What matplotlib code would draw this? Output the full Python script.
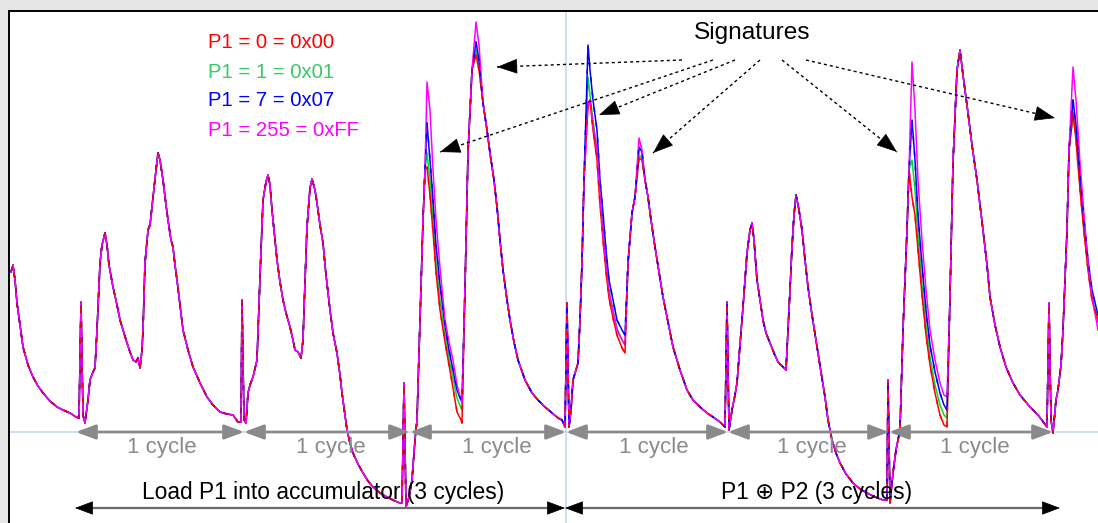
import matplotlib
matplotlib.use("Agg")
import matplotlib.pyplot as plt

# ---------------- data (sample index, amplitude) ----------------
# shared part of the four power traces (all four overlap here)
common_t = [11, 13, 15, 17, 20, 23, 28, 33, 38, 43, 50, 57, 63, 70, 76, 79, 81, 83, 85, 88,
            90, 93, 95, 97, 100, 102, 105, 107, 109, 113, 117, 120, 124, 127, 130, 133, 136, 138, 140, 142,
            143, 145, 148, 150, 153, 156, 158, 160, 163, 166, 168, 171, 173, 175, 177, 180, 183, 188, 193, 200,
            207, 213, 220, 227, 233, 238, 241, 242, 244, 246, 248, 250, 253, 257, 260, 263, 266, 268, 270, 272,
            275, 277, 280, 283, 286, 290, 293, 295, 298, 301, 303, 304, 306, 307, 310, 312, 315, 317, 320, 323,
            326, 330, 333, 337, 340, 342, 345, 347, 350, 353, 358, 363, 368, 373, 380, 387, 395, 400, 402, 404,
            406, 409, 412, 415, 417, 420, 423, 425,
            465, 468, 472,
            483, 487, 490, 494, 497, 500, 503, 507, 510, 514, 518, 525, 532, 538, 545, 552, 558, 562, 565, 567,
            569, 571, 573, 576, 578, 580, 582, 584,
            628, 632, 635,
            645, 648, 651, 655, 659, 663, 668, 673, 680, 687, 693, 700, 707, 713, 720, 725, 727, 729, 732, 735,
            737, 740, 743, 745, 747, 750, 752, 754, 757, 760, 763, 766, 770, 774, 778, 782, 786, 788, 790, 792,
            794, 796, 799, 802, 805, 808, 812, 817, 821, 825, 828, 832, 836, 840, 846, 853, 860, 867, 875, 883,
            887, 888, 890, 893, 896, 900, 903, 905, 907, 909,
            950, 953, 957, 960, 963, 968, 972, 977, 980, 983, 987, 990, 995, 1000, 1006, 1013, 1020, 1030, 1038, 1047,
            1049, 1051, 1053, 1056, 1058, 1061, 1063, 1065, 1067, 1069]
common_v = [160, 167, 152, 129, 107, 85, 67, 55, 46, 39, 31, 25, 22, 19, 15, 14, 130, 17, 9, 32,
            52, 60, 64, 102, 169, 187, 199, 187, 167, 145, 127, 112, 99, 89, 80, 72, 70, 74, 64, 82,
            102, 169, 202, 207, 235, 262, 279, 272, 252, 227, 212, 192, 185, 167, 152, 127, 102, 82, 65, 49,
            35, 27, 20, 18, 17, 10, 10, 132, 12, 9, 39, 47, 55, 72, 155, 232, 250, 257, 247, 222,
            192, 172, 150, 132, 119, 105, 92, 82, 80, 74, 92, 122, 177, 205, 244, 253, 242, 229, 207, 189,
            157, 122, 99, 79, 57, 39, 17, 2, -11, -21, -32, -41, -49, -55, -61, -65, -69, -71, -71, 49,
            -75, -65, -48, -8, 12, 112, 212, 262,
            145, 279, 362,
            329, 302, 279, 252, 225, 192, 162, 132, 112, 90, 72, 52, 39, 32, 25, 19, 14, 12, 5, 129,
            5, 22, 52, 62, 69, 112, 169, 252,
            169, 219, 235,
            252, 235, 212, 185, 160, 135, 110, 85, 62, 42, 32, 25, 19, 15, 10, 5, 130, 2, 22, 37,
            49, 87, 125, 152, 179, 202, 209, 192, 152, 132, 112, 99, 89, 79, 70, 66, 62, 102, 142, 185,
            217, 237, 222, 202, 172, 145, 117, 85, 60, 35, 12, -8, -21, -31, -42, -51, -57, -61, -65, -68,
            -68, 52, -71, -41, -18, 2, 102, 152, 202, 262,
            135, 269, 362, 382, 357, 319, 287, 252, 227, 202, 167, 135, 107, 85, 65, 49, 37, 25, 17, 5,
            129, 12, -1, 32, 42, 67, 102, 152, 202, 282]

# signature windows, where the traces depend on the value of P1
sig_t = [[427, 430, 433, 436, 440, 445, 449, 453, 457, 461, 462],
         [476, 479],
         [588, 590, 593, 597, 600, 603, 606, 609, 613, 617, 622, 625],
         [639, 642],
         [912, 915, 918, 922, 926, 930, 935, 940, 944, 947],
         [1073, 1076, 1080, 1084, 1088, 1092, 1098]]
sig_p1_00 = [[265, 237, 200, 160, 122, 90, 67, 44, 20, 12, 9],
             [377, 362],
             [329, 332, 302, 272, 227, 192, 160, 134, 114, 97, 84, 79],
             [274, 272],
             [235, 217, 182, 137, 97, 67, 39, 17, 7, 5],
             [319, 292, 242, 200, 162, 132, 110]]
sig_p1_01 = [[279, 252, 212, 170, 132, 97, 74, 54, 34, 24, 22],
             [382, 367],
             [355, 337, 312, 282, 237, 202, 170, 142, 122, 104, 92, 87],
             [277, 274],
             [272, 242, 197, 147, 107, 75, 47, 27, 17, 14],
             [315, 297, 247, 202, 164, 134, 112]]
sig_p1_07 = [[309, 272, 232, 187, 147, 107, 82, 62, 42, 32, 30],
             [390, 372],
             [387, 362, 332, 302, 252, 219, 182, 152, 132, 112, 102, 97],
             [285, 280],
             [312, 272, 217, 167, 122, 87, 60, 39, 27, 22],
             [332, 307, 257, 212, 172, 142, 117]]
sig_p1_ff = [[350, 322, 262, 212, 164, 112, 90, 72, 47, 32, 30],
             [410, 387],
             [325, 332, 307, 282, 237, 197, 167, 140, 120, 102, 92, 87],
             [294, 282],
             [370, 322, 252, 192, 142, 102, 72, 49, 37, 35],
             [365, 332, 269, 217, 169, 135, 102]]

series_labels = ["P1 = 0 = 0x00", "P1 = 1 = 0x01", "P1 = 7 = 0x07", "P1 = 255 = 0xFF"]
series_colors = ["#ff0000", "#00dd33", "#0000ff", "#ff00ff"]
text_colors = ["#ff0000", "#33cc66", "#0000ff", "#ff00ff"]

cycle_bounds = [76, 244, 410, 566, 728, 889, 1053]
cycle_label_x = [162, 331, 497, 654, 812, 975]
phase_bounds = [75, 565, 1060]
phase_labels = ["Load P1 into accumulator (3 cycles)", "P1 \u2295 P2 (3 cycles)"]
phase_label_x = [323, 817]

sig_text_pos = (752, 399)
sig_starts = [(682, 372), (713, 372), (735, 372), (760, 372), (782, 372), (806, 372)]
sig_tips = [(497, 365), (440, 280), (599, 317), (653, 279), (897, 280), (1055, 314)]


def build(sig_vals):
    pts = list(zip(common_t, common_v))
    for ts, vs in zip(sig_t, sig_vals):
        pts += list(zip(ts, vs))
    pts.sort()
    return [p[0] for p in pts], [p[1] for p in pts]


FONT = ["Liberation Sans", "DejaVu Sans"]

fig = plt.figure(figsize=(10.98, 5.23), dpi=100, facecolor="#e6e6e6")
ax = fig.add_axes([9 / 1098, 0, 1 - 9 / 1098, (523 - 11) / 523])
ax.set_facecolor("white")
ax.set_xlim(9, 1098)
ax.set_ylim(-91, 421)
ax.set_xticks([])
ax.set_yticks([])
for s in ["right", "bottom"]:
    ax.spines[s].set_visible(False)
for s in ["left", "top"]:
    ax.spines[s].set_color("black")
    ax.spines[s].set_linewidth(1.4)

# reference lines
ax.axhline(0, color="#bcd7ef", lw=1.1, zorder=1)
ax.axvline(566, color="#bcd7ef", lw=1.1, zorder=1)

# traces
all_sig = [sig_p1_00, sig_p1_01, sig_p1_07, sig_p1_ff]
data = [build(s) for s in all_sig]
order = [1, 0, 2, 3]
for i in order:
    x, y = data[i]
    ax.plot(x, y, color=series_colors[i], lw=1.1, zorder=3 + order.index(i))
# interleaved dashes emulate the overlapping coloured samples
x, y = data[2]
ax.plot(x, y, color=series_colors[2], lw=1.1, dashes=(3, 7), zorder=8)
x, y = data[0]
ax.plot(x, y, color=series_colors[0], lw=1.1, dashes=(3, 7), dash_capstyle="butt", zorder=8)

# legend text
for k, (lab, col) in enumerate(zip(series_labels, text_colors)):
    ax.text(208, 389 - 29 * k, lab, color=col, fontsize=14.6, family=FONT,
            ha="left", va="center", zorder=10)

# cycle arrows
gray = "#8a8a8a"
for a, b, lx in zip(cycle_bounds[:-1], cycle_bounds[1:], cycle_label_x):
    ax.annotate("", xy=(b, 0), xytext=(a, 0),
                arrowprops=dict(arrowstyle="<|-|>,head_length=0.85,head_width=0.32",
                                color=gray, lw=2.0, shrinkA=0, shrinkB=0,
                                mutation_scale=14), zorder=6)
    ax.text(lx, -16, "1 cycle", color=gray, fontsize=16, family=FONT,
            ha="center", va="center", zorder=10)

# phase arrows (gray line, black heads)
for a, b, lx, lab in zip(phase_bounds[:-1], phase_bounds[1:], phase_label_x, phase_labels):
    ax.plot([a + 10, b - 10], [-76, -76], color="#6a6a6a", lw=1.6, zorder=6)
    for tip, back in [(a, a + 16), (b, b - 16)]:
        ax.annotate("", xy=(tip, -76), xytext=(back, -76),
                    arrowprops=dict(arrowstyle="-|>,head_length=0.85,head_width=0.32",
                                    color="black", lw=0.5, shrinkA=0, shrinkB=0,
                                    mutation_scale=14), zorder=7)
    ax.text(lx, -61, lab, color="black", fontsize=16.4, family=FONT,
            ha="center", va="center", zorder=10)

# signatures annotation
ax.text(sig_text_pos[0], sig_text_pos[1], "Signatures", color="black", fontsize=17.6,
        family=FONT, ha="center", va="center", zorder=10)
for (sx, sy), (tx, ty) in zip(sig_starts, sig_tips):
    ax.plot([sx, tx], [sy, ty], color="black", lw=1.0, dashes=(2.2, 2.2), zorder=9)
    dx, dy = sx - tx, sy - ty
    n = (dx * dx + dy * dy) ** 0.5
    bx, by = tx + dx / n * 16, ty + dy / n * 16
    ax.annotate("", xy=(tx, ty), xytext=(bx, by),
                arrowprops=dict(arrowstyle="-|>,head_length=0.9,head_width=0.33",
                                color="black", lw=0.5, shrinkA=0, shrinkB=0,
                                mutation_scale=15), zorder=9)

fig.savefig("out.png", dpi=100, facecolor=fig.get_facecolor())
